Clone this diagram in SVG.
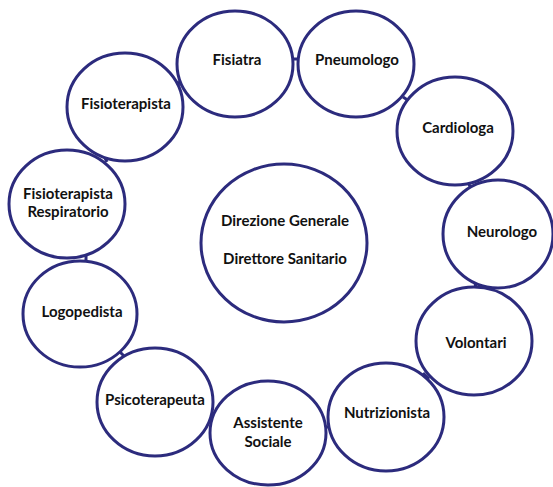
<svg xmlns="http://www.w3.org/2000/svg" width="553" height="487" viewBox="0 0 553 487">
<style>
.n ellipse{fill:#fff;stroke:#2c2b7d;stroke-width:3}
.n text{font-family:Lato,"Open Sans","Liberation Sans",sans-serif;font-weight:bold;font-size:15px;fill:#111;text-anchor:middle}
.c line{stroke:#2c2b7d;stroke-width:3;stroke-linecap:butt}
</style>
<rect width="553" height="487" fill="#fff"/>
<g id="connectors" class="c">
<line x1="292" y1="59" x2="299" y2="59"/>
<line x1="403" y1="97" x2="409" y2="101"/>
<line x1="468" y1="182" x2="471" y2="189"/>
<line x1="475" y1="282" x2="476" y2="289"/>
<line x1="423" y1="373" x2="429" y2="379"/>
<line x1="324" y1="427" x2="331" y2="427"/>
<line x1="208" y1="419" x2="214" y2="421"/>
<line x1="119" y1="351" x2="124" y2="356"/>
<line x1="86" y1="255" x2="86" y2="262"/>
<line x1="104" y1="156" x2="107" y2="162"/>
<line x1="177" y1="82" x2="183" y2="85"/>
</g>
<g id="center" class="n"><ellipse cx="284" cy="243" rx="83" ry="79"/><text x="285" y="226">Direzione Generale</text><text x="285" y="264">Direttore Sanitario</text></g>
<g id="fisiatra" class="n"><ellipse cx="235" cy="64" rx="58" ry="53"/><text x="237" y="65">Fisiatra</text></g>
<g id="pneumologo" class="n"><ellipse cx="356" cy="64" rx="58" ry="53"/><text x="357" y="65">Pneumologo</text></g>
<g id="cardiologa" class="n"><ellipse cx="455" cy="131" rx="58" ry="54"/><text x="458" y="133">Cardiologa</text></g>
<g id="neurologo" class="n"><ellipse cx="498" cy="234" rx="55" ry="54"/><text x="502" y="237">Neurologo</text></g>
<g id="volontari" class="n"><ellipse cx="474" cy="341" rx="58" ry="54"/><text x="476" y="348">Volontari</text></g>
<g id="nutrizionista" class="n"><ellipse cx="386" cy="417" rx="58" ry="54"/><text x="387" y="418">Nutrizionista</text></g>
<g id="assistente" class="n"><ellipse cx="268" cy="433" rx="58" ry="52"/><text x="268" y="428">Assistente</text><text x="268" y="447">Sociale</text></g>
<g id="psicoterapeuta" class="n"><ellipse cx="155" cy="402" rx="58" ry="54"/><text x="155" y="405">Psicoterapeuta</text></g>
<g id="logopedista" class="n"><ellipse cx="80" cy="314" rx="57" ry="53"/><text x="82" y="317">Logopedista</text></g>
<g id="fisioresp" class="n"><ellipse cx="67" cy="204" rx="58" ry="54"/><text x="68" y="199">Fisioterapista</text><text x="68" y="217">Respiratorio</text></g>
<g id="fisioterapista" class="n"><ellipse cx="125" cy="107" rx="58" ry="54"/><text x="126" y="109">Fisioterapista</text></g>
</svg>
